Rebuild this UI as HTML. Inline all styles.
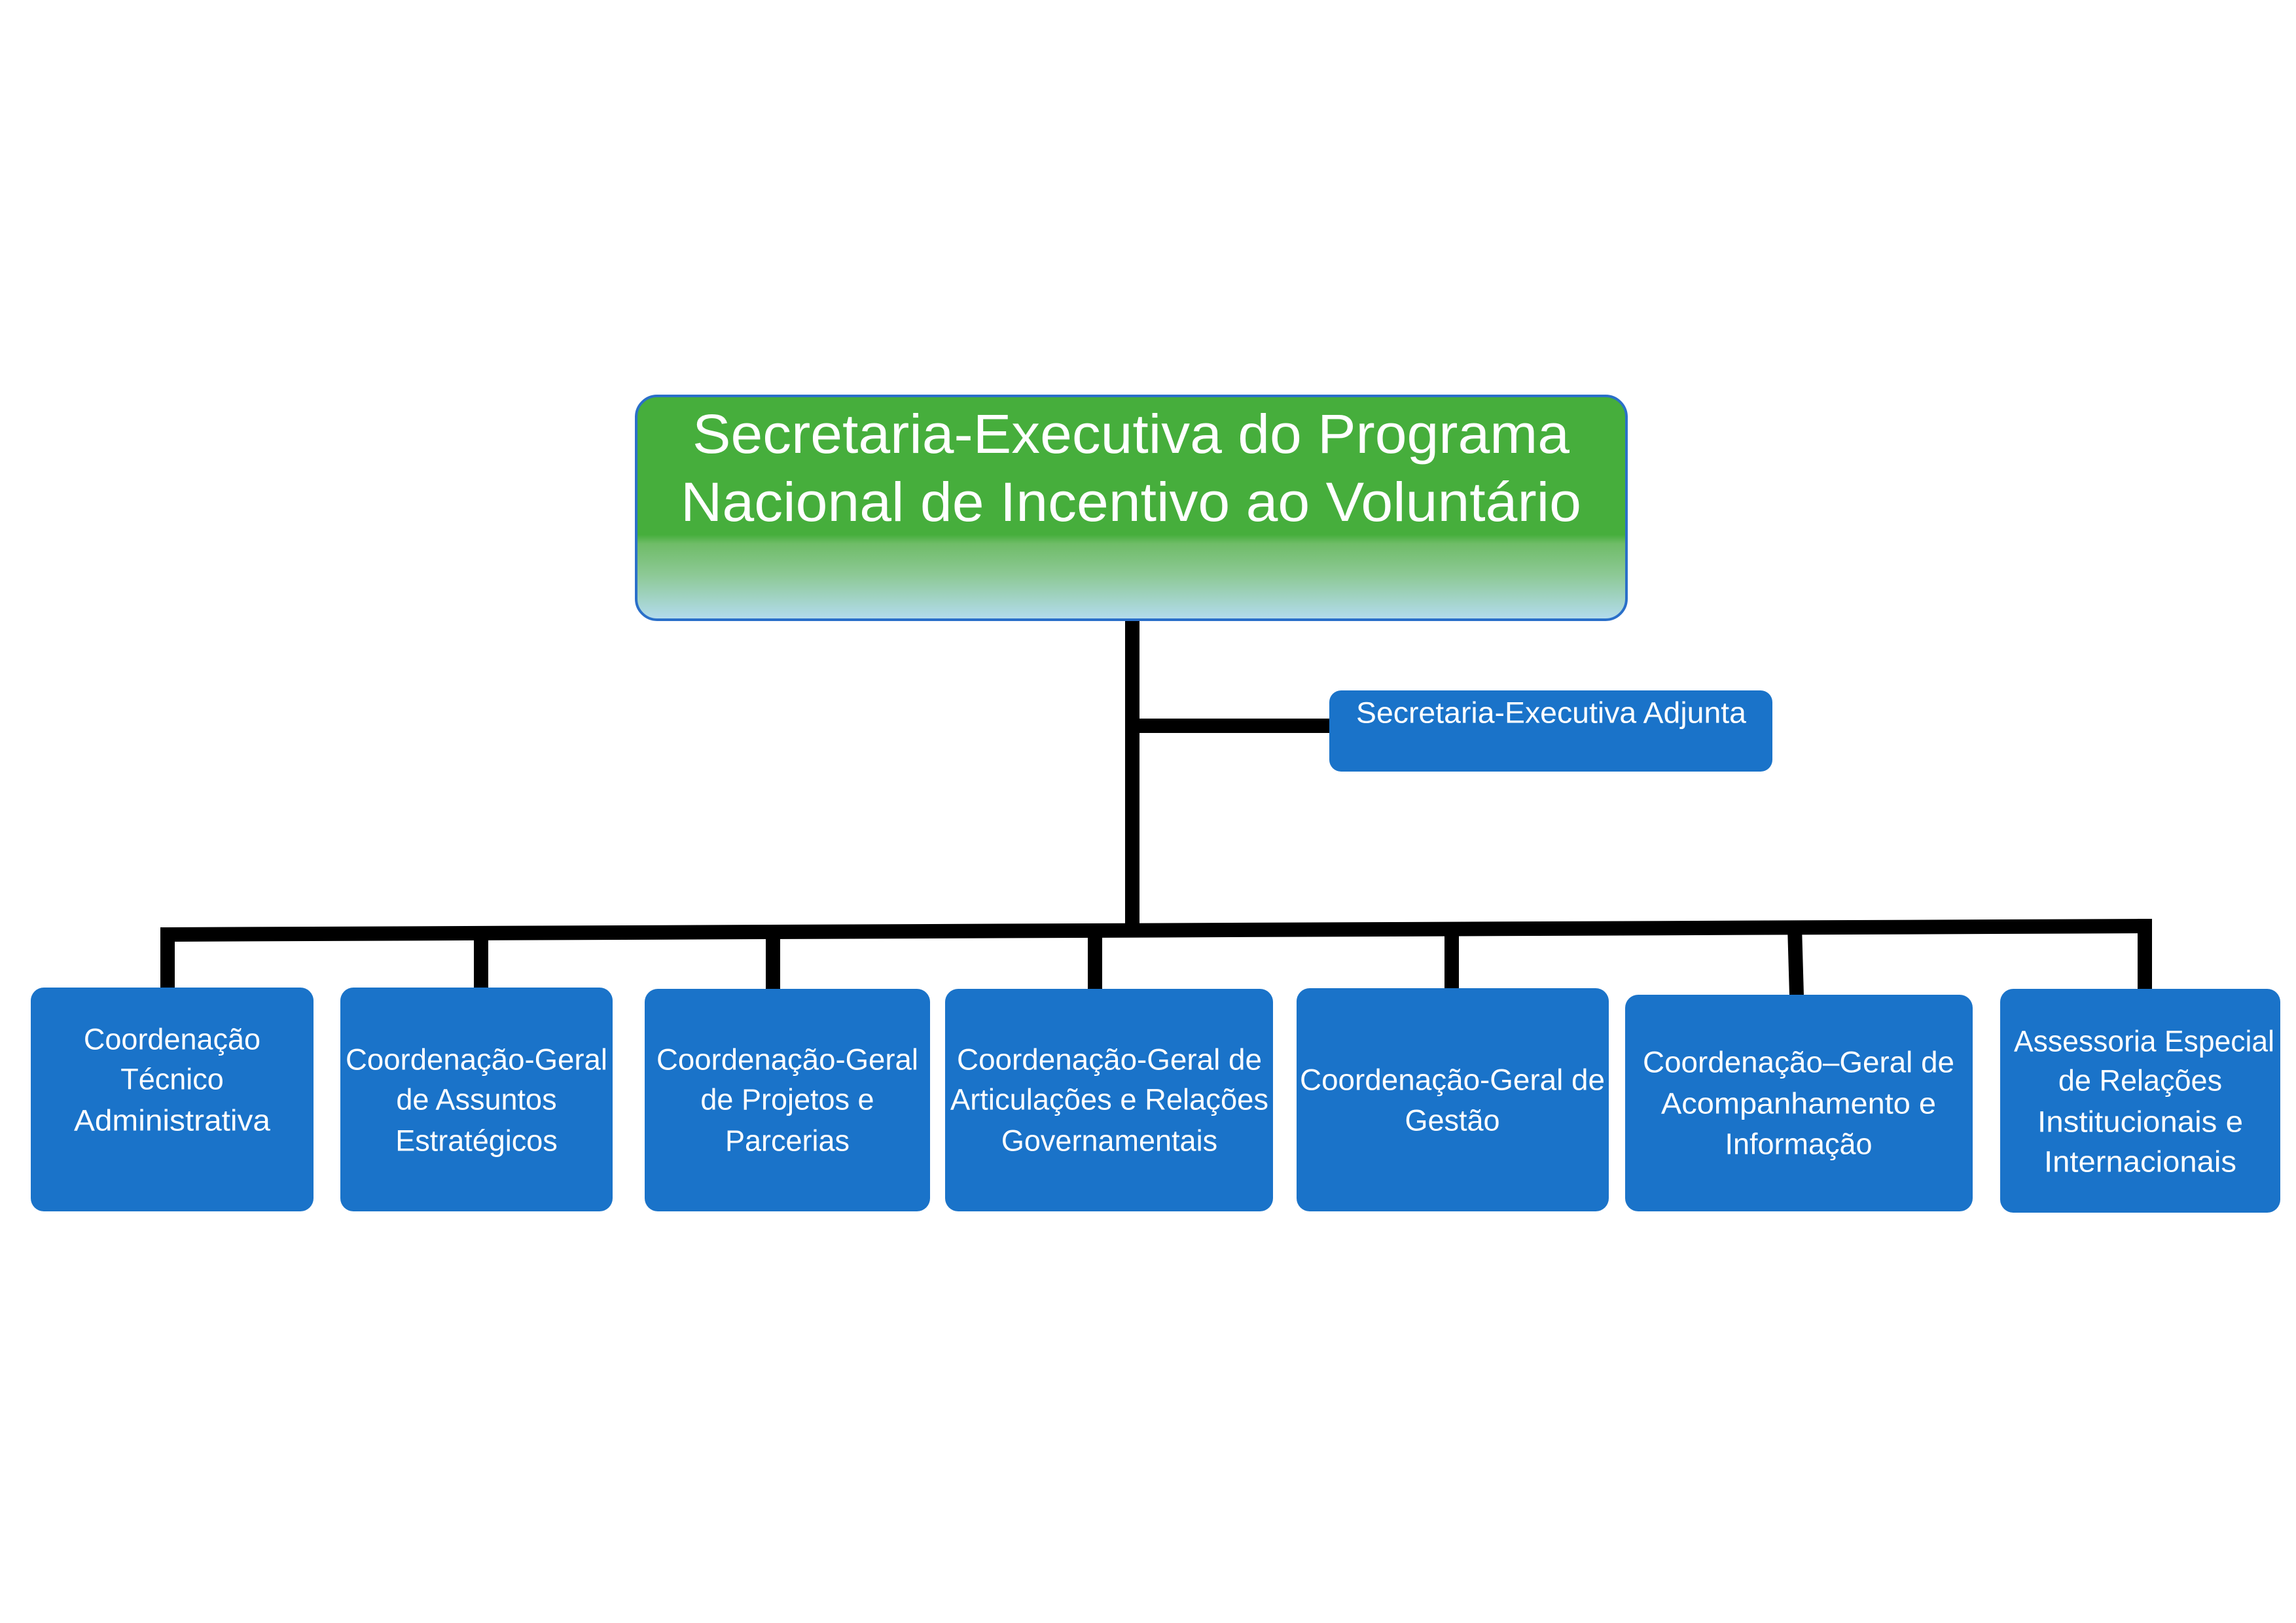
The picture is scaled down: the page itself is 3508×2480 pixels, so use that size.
<!DOCTYPE html>
<html><head><meta charset="utf-8"><style>
html,body{margin:0;padding:0;background:#fff;width:3508px;height:2480px;overflow:hidden}
svg{display:block}
.t{font-family:"Liberation Sans",sans-serif;fill:#fff;text-anchor:middle;dominant-baseline:central}
.s{font-size:45px}
</style></head><body>
<svg width="3508" height="2480" viewBox="0 0 3508 2480" xmlns="http://www.w3.org/2000/svg">
<defs>
<linearGradient id="g" x1="0" y1="0" x2="0" y2="1">
<stop offset="0" stop-color="#46ae3c"/>
<stop offset="0.62" stop-color="#46ae3c"/>
<stop offset="0.66" stop-color="#6fbc67"/>
<stop offset="0.8" stop-color="#8dc996"/>
<stop offset="1" stop-color="#b4dcef"/>
</linearGradient>
</defs>
<g fill="#000">
<rect x="1719" y="945" width="22" height="478"/>
<rect x="1730" y="1098" width="302" height="22"/>
<polygon points="245,1417 3288,1404 3288,1426 245,1439"/>
<rect x="245" y="1428" width="22" height="84"/>
<rect x="724" y="1425" width="22" height="87"/>
<rect x="1170" y="1423" width="22" height="89"/>
<rect x="1662" y="1421" width="22" height="91"/>
<rect x="2207" y="1419" width="22" height="91"/>
<polygon points="2731,1416 2753,1416 2756,1521 2734,1521"/>
<rect x="3266" y="1404" width="22" height="110"/>
</g>
<rect x="972" y="605" width="1513" height="342" rx="32" fill="url(#g)" stroke="#2a6fc9" stroke-width="4"/>
<text class="t" x="1728" y="663" style="font-size:84px" textLength="1340" lengthAdjust="spacingAndGlyphs">Secretaria-Executiva do Programa</text>
<text class="t" x="1728" y="767" style="font-size:84px" textLength="1376" lengthAdjust="spacingAndGlyphs">Nacional de Incentivo ao Voluntário</text>
<rect x="2031" y="1055" width="677" height="124" rx="18" fill="#1a73c9"/>
<text class="t s" x="2370" y="1089" textLength="596" lengthAdjust="spacingAndGlyphs">Secretaria-Executiva Adjunta</text>
<g fill="#1a73c9">
<rect x="47" y="1509" width="432" height="342" rx="20"/>
<rect x="520" y="1509" width="416" height="342" rx="20"/>
<rect x="985" y="1511" width="436" height="340" rx="20"/>
<rect x="1444" y="1511" width="501" height="340" rx="20"/>
<rect x="1981" y="1510" width="477" height="341" rx="20"/>
<rect x="2483" y="1520" width="531" height="331" rx="20"/>
<rect x="3056" y="1511" width="428" height="342" rx="20"/>
</g>
<g class="t s">
<text x="263" y="1588">Coordenação</text>
<text x="263" y="1649">Técnico</text>
<text x="263" y="1712" textLength="300" lengthAdjust="spacingAndGlyphs">Administrativa</text>
<text x="728" y="1619" textLength="400" lengthAdjust="spacingAndGlyphs">Coordenação-Geral</text>
<text x="728" y="1680">de Assuntos</text>
<text x="728" y="1743">Estratégicos</text>
<text x="1203" y="1619" textLength="400" lengthAdjust="spacingAndGlyphs">Coordenação-Geral</text>
<text x="1203" y="1680">de Projetos e</text>
<text x="1203" y="1743">Parcerias</text>
<text x="1695" y="1619" textLength="466" lengthAdjust="spacingAndGlyphs">Coordenação-Geral de</text>
<text x="1695" y="1680" textLength="486" lengthAdjust="spacingAndGlyphs">Articulações e Relações</text>
<text x="1695" y="1743">Governamentais</text>
<text x="2219" y="1650" textLength="466" lengthAdjust="spacingAndGlyphs">Coordenação-Geral de</text>
<text x="2219" y="1712">Gestão</text>
<text x="2748" y="1623" textLength="476" lengthAdjust="spacingAndGlyphs">Coordenação–Geral de</text>
<text x="2748" y="1686" textLength="420" lengthAdjust="spacingAndGlyphs">Acompanhamento e</text>
<text x="2748" y="1748">Informação</text>
<text x="3276" y="1591" textLength="398" lengthAdjust="spacingAndGlyphs">Assessoria Especial</text>
<text x="3270" y="1651">de Relações</text>
<text x="3270" y="1714" textLength="314" lengthAdjust="spacingAndGlyphs">Institucionais e</text>
<text x="3270" y="1775" textLength="294" lengthAdjust="spacingAndGlyphs">Internacionais</text>
</g>
</svg>
</body></html>
